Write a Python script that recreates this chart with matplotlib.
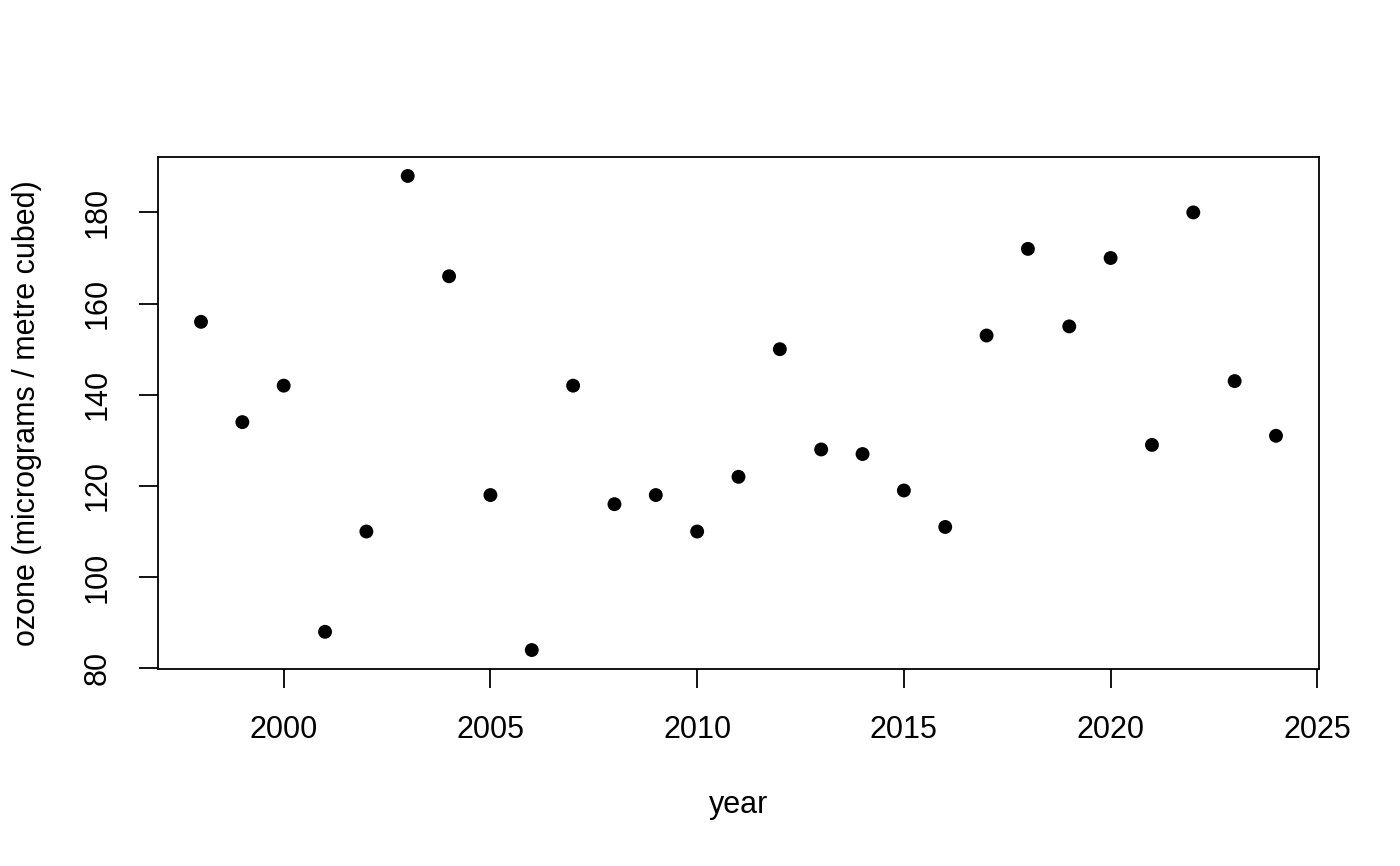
import matplotlib
matplotlib.use("Agg")
import matplotlib.pyplot as plt

years = [1998, 1999, 2000, 2001, 2002, 2003, 2004, 2005, 2006, 2007, 2008, 2009, 2010,
         2011, 2012, 2013, 2014, 2015, 2016, 2017, 2018, 2019, 2020, 2021, 2022, 2023, 2024]
ozone = [156, 134, 142, 88, 110, 188, 166, 118, 84, 142, 116, 118, 110,
         122, 150, 128, 127, 119, 111, 153, 172, 155, 170, 129, 180, 143, 131]
xticks = [2000, 2005, 2010, 2015, 2020, 2025]
yticks = [80, 100, 120, 140, 160, 180]

plt.rcParams['font.family'] = ['Liberation Sans', 'DejaVu Sans']

W, H = 1400, 866
fig = plt.figure(figsize=(W / 100, H / 100), dpi=100)
l, r, t, b = 158, 1319, 157, 669
ax = fig.add_axes([l / W, 1 - b / H, (r - l) / W, (b - t) / H])

ax.scatter(years, ozone, s=100, color='black', edgecolors='none', zorder=3)

xr = max(years) - min(years)
yr = max(ozone) - min(ozone)
ax.set_xlim(min(years) - 0.04 * xr, max(years) + 0.04 * xr)
ax.set_ylim(min(ozone) - 0.04 * yr, max(ozone) + 0.04 * yr)

ax.set_xticks(xticks)
ax.set_yticks(yticks)
ax.set_xticklabels([str(v) for v in xticks])
ax.set_yticklabels([str(v) for v in yticks], rotation=90, va='center')

ax.tick_params(axis='both', length=14, width=1.3, labelsize=22, pad=19, color='black')
for s in ax.spines.values():
    s.set_linewidth(1.3)
    s.set_color('black')

ax.set_xlabel('year', fontsize=22)
ax.set_ylabel('ozone (micrograms / metre cubed)', fontsize=22)
ax.xaxis.set_label_coords(0.5, (b - 805) / (b - t))
ax.xaxis.label.set_va('center')
ax.yaxis.set_label_coords((27 - l) / (r - l), 0.5)
ax.yaxis.label.set_va('center')
ax.yaxis.label.set_ha('center')

fig.savefig('out.png', dpi=100)
